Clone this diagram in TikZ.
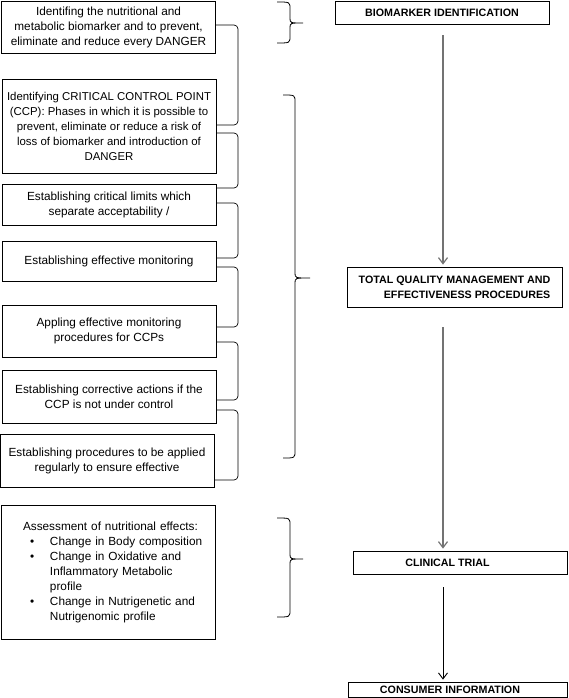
\documentclass[tikz,border=0pt]{standalone}
\usepackage{fontspec}
\setmainfont{Liberation Sans}
\usetikzlibrary{arrows.meta}
\newcommand\mybrace[6]{%
  \draw[bracestyle] (#1,#4) .. controls (#2,#4) .. (#2,#4+7) -- (#2,#5-5)
    .. controls (#2,#5) .. (#3,#5) .. controls (#2,#5) .. (#2,#5+5)
    -- (#2,#6-7) .. controls (#2,#6) .. (#1,#6);}
\begin{document}
\begin{tikzpicture}[x=1pt,y=-1pt,
  box/.style={draw=black, line width=0.8pt, minimum width=214pt, inner sep=2pt,
    font=\fontsize{11.8}{15}\selectfont, align=center},
  rbox/.style={draw=black, line width=0.8pt, inner sep=2pt,
    font=\bfseries\fontsize{10.7}{15}\selectfont},
  link/.style={draw=black, line width=0.7pt, rounded corners=4pt},
  bracestyle/.style={draw=black, line width=0.8pt},
  flow/.style={draw=black!55, line width=1.2pt, -{Straight Barb[length=6pt,width=9pt]}},
  flowdark/.style={draw=black, line width=0.9pt, -{Straight Barb[length=6pt,width=9pt]}}]
\useasboundingbox (0,0) rectangle (568,698);

% left boxes
\node[box, minimum height=52pt] (b1) at (108.5,27) {Identifing the nutritional and\\ metabolic biomarker and to prevent,\\ eliminate and reduce every DANGER};
\node[box, minimum height=94pt, inner xsep=0pt, font=\fontsize{11.4}{15}\selectfont] (b2) at (109,126) {Identifying CRITICAL CONTROL POINT\\ (CCP): Phases in which it is possible to\\ prevent, eliminate or reduce a risk of\\ loss of biomarker and introduction of\\ DANGER};
\node[box, minimum height=41pt] (b3) at (109,204.5) {Establishing critical limits which\\ separate acceptability /};
\node[box, minimum height=40pt] (b4) at (109,261) {Establishing effective monitoring};
\node[box, minimum height=52pt] (b5) at (109,331) {Appling effective monitoring\\ procedures for CCPs};
\node[box, minimum height=53pt] (b6) at (109,396.5) {Establishing corrective actions if the\\ CCP is not under control};
\node[box, minimum height=53pt] (b7) at (107,460.5) {Establishing procedures to be applied\\ regularly to ensure effective};
\node[box, minimum height=134pt, text width=200pt, inner xsep=0pt, align=left] (b8) at (108.5,572) {%
\hspace*{14.5pt}Assessment of nutritional effects:\\
\hspace*{21.5pt}\makebox[20pt][l]{•}Change in Body composition\\
\hspace*{21.5pt}\makebox[20pt][l]{•}Change in Oxidative and\\
\hspace*{41.5pt}Inflammatory Metabolic\\
\hspace*{41.5pt}profile\\
\hspace*{21.5pt}\makebox[20pt][l]{•}Change in Nutrigenetic and\\
\hspace*{41.5pt}Nutrigenomic profile};

% links between left boxes
\draw[link] (b1.east |- 0,25) -- (238,25) -- (238,125) -- (b2.east |- 0,125);
\draw[link] (b2.east |- 0,133) -- (238,133) -- (238,188) -- (b3.east |- 0,188);
\draw[link] (b3.east |- 0,203) -- (238,203) -- (238,258) -- (b4.east |- 0,258);
\draw[link] (b4.east |- 0,267) -- (238,267) -- (238,327) -- (b5.east |- 0,327);
\draw[link] (b5.east |- 0,342) -- (238,342) -- (238,400) -- (b6.east |- 0,400);
\draw[link] (b6.east |- 0,410) -- (238,410) -- (238,480) -- (b7.east |- 0,480);

% braces
\mybrace{277}{290}{303}{2}{23}{43}
\mybrace{283}{295}{310}{95}{278}{458}
\mybrace{277}{290}{303}{518}{559}{617}

% right boxes
\node[rbox, minimum width=214pt, minimum height=23pt] (bi) at (442,12.5) {BIOMARKER IDENTIFICATION};
\node[rbox, minimum width=215pt, minimum height=40pt, align=right] (tqm) at (454.5,287) {TOTAL QUALITY MANAGEMENT AND\\ EFFECTIVENESS PROCEDURES};
\node[rbox, minimum width=214pt, minimum height=23pt] (ct) at (460,562.5) {\hspace*{-25pt}CLINICAL TRIAL};
\node[rbox, minimum width=219pt, minimum height=15pt, inner ysep=1pt] (ci) at (457.5,689.5) {\hspace*{-15pt}CONSUMER INFORMATION};

% flow arrows
\draw[flow, shorten <=11pt, shorten >=2pt] (bi.south -| 443,0) -- (tqm.north -| 443,0);
\draw[flow, shorten <=20pt, shorten >=2pt] (tqm.south -| 443,0) -- (ct.north -| 443,0);
\draw[flowdark, shorten <=13pt, shorten >=2pt] (ct.south -| 443,0) -- (ci.north -| 443,0);
\end{tikzpicture}
\end{document}
